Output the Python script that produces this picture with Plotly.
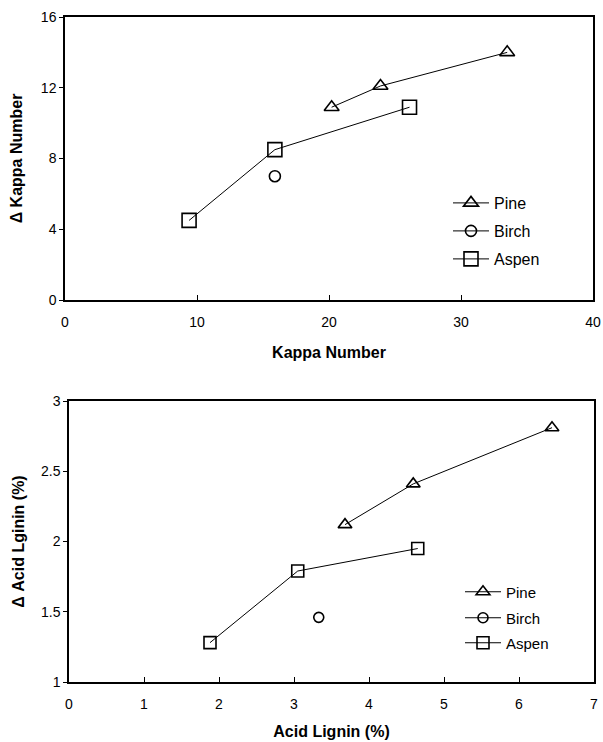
import plotly.graph_objects as go

# Top panel: Kappa Number
kappa_pine_x = [20.2, 23.9, 33.5]
kappa_pine_y = [10.9, 12.1, 14.0]
kappa_birch_x = [15.9]
kappa_birch_y = [7.0]
kappa_aspen_x = [9.4, 15.9, 26.1]
kappa_aspen_y = [4.5, 8.5, 10.9]

# Bottom panel: Acid Lignin
lig_pine_x = [3.68, 4.59, 6.44]
lig_pine_y = [2.12, 2.41, 2.81]
lig_birch_x = [3.33]
lig_birch_y = [1.46]
lig_aspen_x = [1.88, 3.05, 4.65]
lig_aspen_y = [1.28, 1.79, 1.95]

series_names = ["Pine", "Birch", "Aspen"]
top_xticks = [0, 10, 20, 30, 40]
top_yticks = [0, 4, 8, 12, 16]
bot_xticks = [0, 1, 2, 3, 4, 5, 6, 7]
bot_yticks = [1, 1.5, 2, 2.5, 3]

W, H = 603, 742
FONT = "Liberation Sans, Arial, sans-serif"

symbols = {"Pine": "triangle-up-open", "Birch": "circle-open", "Aspen": "square-open"}
sizes_top = {"Pine": 13, "Birch": 11, "Aspen": 14}
sizes_bot = {"Pine": 12, "Birch": 10, "Aspen": 12}

fig = go.Figure()

top = {"Pine": (kappa_pine_x, kappa_pine_y), "Birch": (kappa_birch_x, kappa_birch_y),
       "Aspen": (kappa_aspen_x, kappa_aspen_y)}
bot = {"Pine": (lig_pine_x, lig_pine_y), "Birch": (lig_birch_x, lig_birch_y),
       "Aspen": (lig_aspen_x, lig_aspen_y)}

for i, name in enumerate(series_names):
    x, y = top[name]
    fig.add_trace(go.Scatter(
        x=x, y=y, name=name, mode="lines+markers",
        line=dict(color="black", width=1),
        marker=dict(symbol=symbols[name], size=sizes_top[name], color="black",
                    line=dict(width=1.6, color="black")),
        xaxis="x", yaxis="y", legend="legend" if i == 0 else f"legend{i+1}",
    ))
for i, name in enumerate(series_names):
    x, y = bot[name]
    fig.add_trace(go.Scatter(
        x=x, y=y, name=name, mode="lines+markers",
        line=dict(color="black", width=1),
        marker=dict(symbol=symbols[name], size=sizes_bot[name], color="black",
                    line=dict(width=1.6, color="black")),
        xaxis="x2", yaxis="y2", legend=f"legend{i+4}",
    ))

def px_x(p):
    return p / W

def px_y(p):
    return 1 - p / H

axis_common = dict(showline=True, linecolor="black", linewidth=1.5, mirror=True,
                   showgrid=False, zeroline=False, tickcolor="black", automargin=False,
                   tickfont=dict(family=FONT, size=14, color="black"))

legend_common = dict(bgcolor="rgba(0,0,0,0)", borderwidth=0, xanchor="left", yanchor="middle",
                     itemwidth=36,
                     font=dict(family=FONT, size=16, color="black"))

legends = {}
top_leg_y = [203, 231, 259]
bot_leg_y = [592, 618, 643]
for i in range(3):
    key = "legend" if i == 0 else f"legend{i+1}"
    legends[key] = dict(legend_common, x=px_x(448), y=px_y(top_leg_y[i]))
for i in range(3):
    legends[f"legend{i+4}"] = dict(legend_common, x=px_x(460), y=px_y(bot_leg_y[i]),
                                   font=dict(family=FONT, size=15, color="black"))

fig.update_layout(
    width=W, height=H,
    margin=dict(l=0, r=0, t=0, b=0),
    paper_bgcolor="white", plot_bgcolor="white",
    showlegend=True,
    xaxis=dict(axis_common, domain=[px_x(65), px_x(593)], range=[0, 40],
               tickvals=top_xticks, ticks="inside", ticklen=5, anchor="y",
               ticklabelstandoff=8,
               title=dict(text="<b>Kappa Number</b>", font=dict(family=FONT, size=16, color="black"),
                          standoff=18)),
    yaxis=dict(axis_common, domain=[px_y(300), px_y(17)], range=[0, 16],
               tickvals=top_yticks, ticks="outside", ticklen=4, anchor="x",
               title=dict(text="<b>Δ Kappa Number</b>", font=dict(family=FONT, size=16, color="black"),
                          standoff=14)),
    xaxis2=dict(axis_common, domain=[px_x(69), px_x(594)], range=[0, 7],
                tickvals=bot_xticks, ticks="inside", ticklen=5, anchor="y2",
                ticklabelstandoff=8,
                title=dict(text="<b>Acid Lignin (%)</b>", font=dict(family=FONT, size=16, color="black"),
                           standoff=15)),
    yaxis2=dict(axis_common, domain=[px_y(682), px_y(401)], range=[1, 3],
                tickvals=bot_yticks, ticktext=["1", "1.5", "2", "2.5", "3"],
                ticks="outside", ticklen=4, anchor="x2",
                title=dict(text="<b>Δ Acid Lginin (%)</b>", font=dict(family=FONT, size=16, color="black"),
                           standoff=12)),
    **legends,
)

fig.write_html("out.html", config={"displayModeBar": False},
               post_script="document.body.style.margin='0';document.body.style.overflow='hidden';")
